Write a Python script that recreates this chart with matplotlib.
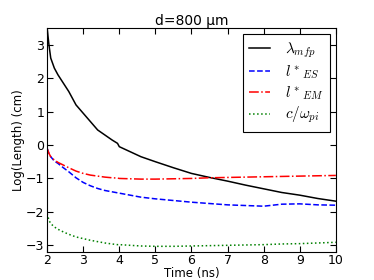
import matplotlib
matplotlib.use("Agg")
import matplotlib.pyplot as plt

plt.rcParams['mathtext.fontset'] = 'cm'

time_ns = [2.0, 2.05, 2.1, 2.2, 2.3, 2.45, 2.6, 2.8, 3.0, 3.2, 3.4, 3.6, 3.8, 3.95,
           4.0, 4.3, 4.6, 5.0, 5.5, 6.0, 6.5, 7.0, 7.5, 8.0, 8.5, 9.0, 9.5, 10.0]
lambda_mfp = [3.5, 3.0, 2.6, 2.3, 2.1, 1.85, 1.6, 1.2, 0.95, 0.7, 0.45, 0.3, 0.15, 0.05,
              -0.05, -0.2, -0.35, -0.5, -0.68, -0.85, -0.97, -1.08, -1.2, -1.31, -1.42, -1.5, -1.6, -1.68]
l_es = [-0.1, -0.25, -0.35, -0.48, -0.55, -0.68, -0.8, -0.98, -1.12, -1.22, -1.3, -1.36, -1.4, -1.43,
        -1.44, -1.5, -1.56, -1.61, -1.66, -1.71, -1.75, -1.79, -1.81, -1.83, -1.77, -1.76, -1.79, -1.8]
l_em = [-0.1, -0.25, -0.35, -0.45, -0.52, -0.6, -0.68, -0.78, -0.85, -0.9, -0.93, -0.96, -0.98, -0.99,
        -1.0, -1.01, -1.02, -1.02, -1.01, -1.0, -0.98, -0.97, -0.96, -0.95, -0.94, -0.93, -0.92, -0.91]
c_wpi = [-2.05, -2.25, -2.35, -2.45, -2.52, -2.6, -2.67, -2.75, -2.8, -2.85, -2.89, -2.93, -2.96, -2.98,
         -2.98, -3.0, -3.02, -3.03, -3.03, -3.02, -3.01, -3.0, -2.99, -2.98, -2.96, -2.95, -2.93, -2.91]

labels = [r'$\lambda_{mfp}$', r'${l^*}_{ES}$', r'${l^*}_{EM}$', r'$c/\omega_{pi}$']

fig = plt.figure(figsize=(3.74, 2.8), dpi=100)
fig.patch.set_facecolor('white')
ax = fig.add_axes([0.126, 0.1, 0.772, 0.8])
ax.plot(time_ns, lambda_mfp, color='k', ls='-', lw=1.1, label=labels[0])
ax.plot(time_ns, l_es, color='b', ls='--', lw=1.1, label=labels[1])
ax.plot(time_ns, l_em, color='r', ls='-.', lw=1.1, label=labels[2])
ax.plot(time_ns, c_wpi, color='g', ls=':', lw=1.1, label=labels[3])

ax.set_xlim(2, 10)
ax.set_ylim(-3.2, 3.5)
ax.set_xticks(range(2, 11))
ax.set_yticks(range(-3, 4))
ax.tick_params(direction='in', top=True, right=True, labelsize=9, length=4, width=0.8)
ax.tick_params(axis='x', pad=1.5)
ax.tick_params(axis='y', pad=2)
for s in ax.spines.values():
    s.set_linewidth(0.8)
ax.set_xlabel('Time (ns)', fontsize=8.5)
ax.set_ylabel('Log(Length) (cm)', fontsize=8.5)
ax.xaxis.set_label_coords(0.5, -0.066)
ax.yaxis.set_label_coords(-0.076, 0.5)
ax.set_title('d=800 μm', fontsize=10, pad=2.5)
leg = ax.legend(loc='upper right', fontsize=11, fancybox=False, framealpha=1,
                edgecolor='k', handlelength=1.4, handletextpad=1.0, labelspacing=0.22,
                borderaxespad=0.4, borderpad=0.4)
leg.get_frame().set_linewidth(0.8)

fig.savefig('out.png', dpi=100, facecolor='white')
